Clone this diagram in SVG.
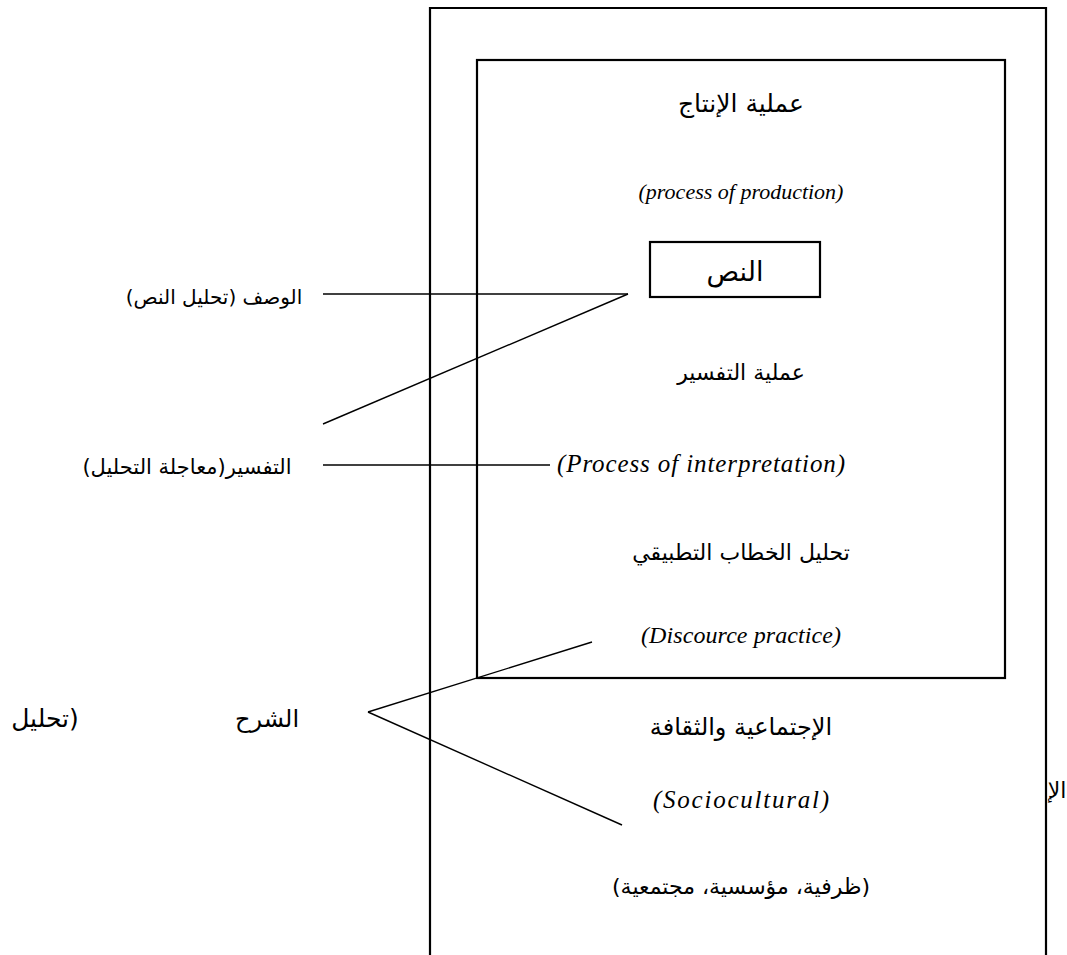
<svg xmlns="http://www.w3.org/2000/svg" width="1067" height="955" viewBox="0 0 1067 955">
<style>
.box{fill:none;stroke:#000;stroke-width:2.2}
.ln{stroke:#000;stroke-width:1.4;fill:none}
.ar{font-family:"DejaVu Sans","Noto Sans",sans-serif;font-size:22px;fill:#000;text-anchor:middle}
.en{font-family:"Liberation Serif",serif;font-style:italic;font-size:24px;fill:#000;text-anchor:middle}
</style>
<rect width="1067" height="955" fill="#fff"/>
<g id="outer">
<path class="box" d="M430,960 V8 H1046 V960"/>
<text class="ar" x="741" y="735" direction="rtl" style="font-size:24px">الإجتماعية والثقافة</text>
<text class="en" x="741" y="808" textLength="176" lengthAdjust="spacing" style="font-size:25px">(Sociocultural)</text>
<text class="ar" x="741" y="894" direction="rtl">(ظرفية، مؤسسية، مجتمعية)</text>
</g>
<g id="inner">
<rect class="box" x="477" y="60" width="528" height="618"/>
<text class="ar" x="741" y="112" direction="rtl" style="font-size:25px">عملية الإنتاج</text>
<text class="en" x="741" y="199" style="font-size:22px">(process of production)</text>
<text class="ar" x="741" y="380" direction="rtl">عملية التفسير</text>
<text class="en" x="701" y="472" textLength="288" lengthAdjust="spacing" style="font-size:25px">(Process of interpretation)</text>
<text class="ar" x="741" y="560" direction="rtl">تحليل الخطاب التطبيقي</text>
<text class="en" x="741" y="643" textLength="200" lengthAdjust="spacing">(Discource practice)</text>
</g>
<g id="text-box">
<rect class="box" x="650" y="242" width="170" height="55"/>
<text class="ar" x="735" y="281" direction="rtl" style="font-size:27px">النص</text>
</g>
<g id="label-description">
<text class="ar" x="214" y="304" direction="rtl" style="font-size:20px">الوصف (تحليل النص)</text>
</g>
<g id="label-interpretation">
<text class="ar" x="187" y="474" direction="rtl" style="font-size:21px">التفسير(معاجلة التحليل)</text>
</g>
<g id="label-explanation">
<text class="ar" x="267" y="727" direction="rtl" style="font-size:24px">الشرح</text>
<text class="ar" x="45" y="727" direction="rtl" style="font-size:25px">(تحليل</text>
<text class="ar" x="1057" y="798" direction="rtl">الإ</text>
</g>
<g id="connectors">
<line class="ln" x1="323" y1="294" x2="628" y2="294"/>
<line class="ln" x1="323" y1="424" x2="628" y2="294"/>
<line class="ln" x1="323" y1="465" x2="550" y2="465"/>
<line class="ln" x1="368" y1="712" x2="592" y2="642"/>
<line class="ln" x1="368" y1="712" x2="622" y2="825"/>
</g>
</svg>
